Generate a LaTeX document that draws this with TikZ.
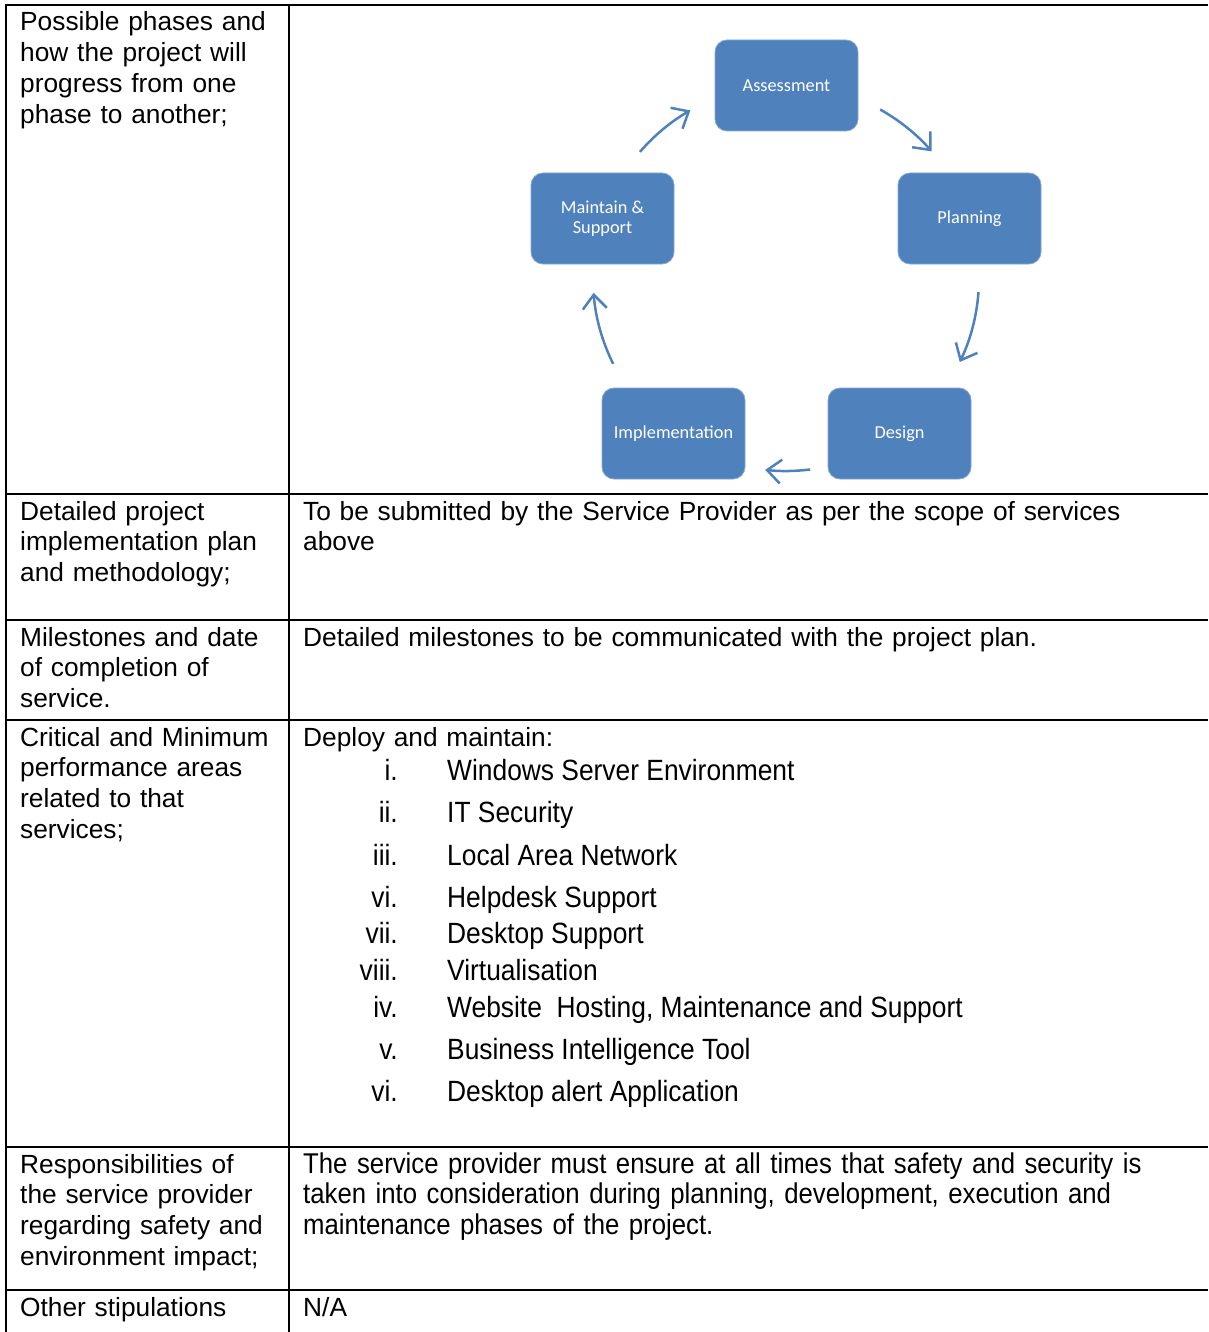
\documentclass[tikz,border=0pt]{standalone}
\usepackage{fontspec}
\setmainfont{Liberation Sans}
\newfontfamily\narrowfont[FakeStretch=0.9]{Liberation Sans}
\newfontfamily\boxfont{Carlito}
\usepackage{tikz}
\usetikzlibrary{arrows.meta}
\definecolor{phaseblue}{HTML}{4F81BD}

\tikzset{
    rule/.style={line width=2pt},
    cell/.style={anchor=base west, inner sep=0pt, align=left, text width=#1,
        font=\fontsize{26.3}{30.7}\selectfont},
    cell/.default=270pt,
    narrowcell/.style={anchor=base west, inner sep=0pt, align=left, text width=900pt,
        font=\narrowfont\fontsize{28.6}{30.6}\selectfont},
    itemnum/.style={anchor=base east, inner sep=0pt, font=\narrowfont\fontsize{29.3}{32}\selectfont},
    itemtext/.style={anchor=base west, inner sep=0pt, font=\narrowfont\fontsize{29.3}{32}\selectfont},
    phase/.style={rectangle, rounded corners=12pt, fill=phaseblue, draw=phaseblue!70!white,
        line width=0.8pt, minimum width=143pt, minimum height=91pt, inner sep=2pt,
        text=white, align=center, font=\boxfont\fontsize{18.3}{20}\selectfont},
    cycle/.style={phaseblue, line width=2.5pt, -{Straight Barb[length=14pt,width=24pt]}}
}

\begin{document}
\begin{tikzpicture}[x=1pt,y=1pt]
    \useasboundingbox (0,0) rectangle (1208,-1332);

    % table rules
    \draw[rule] (6,-4) -- (6,-1332);
    \draw[rule] (289,-4) -- (289,-1332);
    \draw[rule] (5,-5) -- (1208,-5);
    \draw[rule] (5,-494) -- (1208,-494);
    \draw[rule] (5,-620) -- (1208,-620);
    \draw[rule] (5,-720) -- (1208,-720);
    \draw[rule] (5,-1147) -- (1208,-1147);
    \draw[rule] (5,-1290) -- (1208,-1290);

    % left column
    \node[cell] (l1) at (20,-31) {Possible phases and\\how the project will\\progress from one\\phase to another;};
    \node[cell] (l2) at (20,-520) {Detailed project\\implementation plan\\and methodology;};
    \node[cell] (l3) at (20,-646) {Milestones and date\\of completion of\\service.};
    \node[cell] (l4) at (20,-746) {Critical and Minimum\\performance areas\\related to that\\services;};
    \node[cell] (l5) at (20,-1173) {Responsibilities of\\the service provider\\regarding safety and\\environment impact;};
    \node[cell] (l6) at (20,-1316) {Other stipulations};

    % right column
    \node[cell=900pt] (r2) at (303,-520) {To be submitted by the Service Provider as per the scope of services\\above};
    \node[cell=900pt] (r3) at (303,-646) {Detailed milestones to be communicated with the project plan.};
    \node[cell=900pt] (r4) at (303,-746) {Deploy and maintain:};
    \node[narrowcell] (r5) at (303,-1173) {The service provider must ensure at all times that safety and security is\\taken into consideration during planning, development, execution and\\maintenance phases of the project.};
    \node[cell=900pt] (r6) at (303,-1316) {N/A};

    \node[itemnum] (n1) at (398,-780) {i.};
    \node[itemtext] (t1) at (447,-780) {Windows Server Environment};
    \node[itemnum] (n2) at (398,-822) {ii.};
    \node[itemtext] (t2) at (447,-822) {IT Security};
    \node[itemnum] (n3) at (398,-865) {iii.};
    \node[itemtext] (t3) at (447,-865) {Local Area Network};
    \node[itemnum] (n4) at (398,-907) {vi.};
    \node[itemtext] (t4) at (447,-907) {Helpdesk Support};
    \node[itemnum] (n5) at (398,-943) {vii.};
    \node[itemtext] (t5) at (447,-943) {Desktop Support};
    \node[itemnum] (n6) at (398,-980) {viii.};
    \node[itemtext] (t6) at (447,-980) {Virtualisation};
    \node[itemnum] (n7) at (398,-1017) {iv.};
    \node[itemtext] (t7) at (447,-1017) {Website\ \ Hosting, Maintenance and Support};
    \node[itemnum] (n8) at (398,-1059) {v.};
    \node[itemtext] (t8) at (447,-1059) {Business Intelligence Tool};
    \node[itemnum] (n9) at (398,-1101) {vi.};
    \node[itemtext] (t9) at (447,-1101) {Desktop alert Application};

    % phase cycle
    \node[phase] (assess) at (786.5,-85.5) {Assessment};
    \node[phase] (plan) at (969.5,-218.5) {Planning};
    \node[phase] (design) at (899.5,-433.5) {Design};
    \node[phase] (impl) at (673.5,-433.5) {Implementation};
    \node[phase] (maint) at (602.5,-218.5) {Maintain \&\\Support};

    \coordinate (ctr) at (786,-278);
    \draw[cycle] (ctr) ++(60.8:193) arc[start angle=60.8, end angle=41, radius=193];
    \draw[cycle] (ctr) ++(-4.2:193) arc[start angle=-4.2, end angle=-25.8, radius=193];
    \draw[cycle] (ctr) ++(-82.8:193) arc[start angle=-82.8, end angle=-96.2, radius=193];
    \draw[cycle] (ctr) ++(-153.6:193) arc[start angle=-153.6, end angle=-175.6, radius=193];
    \draw[cycle] (ctr) ++(139.2:193) arc[start angle=139.2, end angle=119.7, radius=193];
\end{tikzpicture}
\end{document}
